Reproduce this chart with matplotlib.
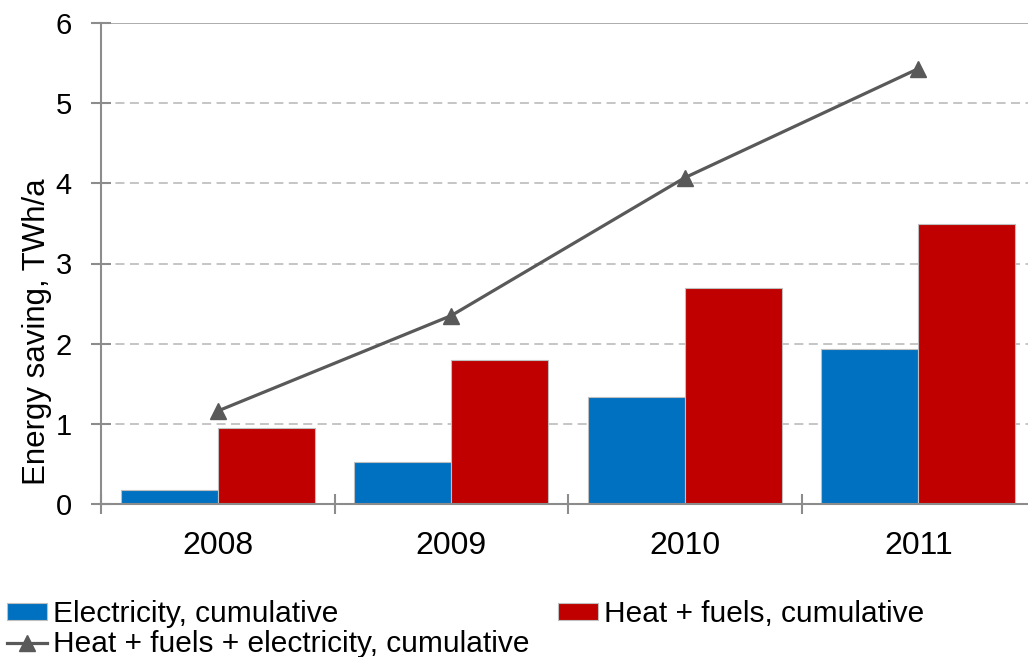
import matplotlib
matplotlib.use("Agg")
import matplotlib.pyplot as plt
from matplotlib.lines import Line2D
from matplotlib.patches import Patch
import numpy as np

plt.rcParams['font.family'] = ['Liberation Sans', 'DejaVu Sans']

years = ["2008", "2009", "2010", "2011"]
electricity = [0.18, 0.53, 1.33, 1.93]
heat_fuels = [0.95, 1.80, 2.70, 3.49]
total = [1.16, 2.35, 4.07, 5.43]

blue = "#0070C0"
red = "#C00000"
line_col = "#595959"
axis_col = "#8C8C8C"
grid_col = "#C0C0C0"

fig = plt.figure(figsize=(10.28, 6.57), dpi=100)
ax = fig.add_axes([101/1028, (657-504)/657, (1035-101)/1028, (504-23)/657])

x = np.arange(len(years))
w = 0.415
ax.bar(x - w/2, electricity, w, color=blue, edgecolor="#BFBFBF", linewidth=0.8, zorder=3)
ax.bar(x + w/2, heat_fuels, w, color=red, edgecolor="#BFBFBF", linewidth=0.8, zorder=3)
ax.plot(x, total, color=line_col, lw=2.3, marker="^", ms=11, zorder=4, clip_on=False)

ax.set_xlim(-0.5, 3.5)
ax.set_ylim(0, 6)
ax.set_yticks([0, 1, 2, 3, 4, 5, 6])
for v in [1, 2, 3, 4, 5]:
    ax.axhline(v, color=grid_col, lw=1.3, dashes=(5, 3), zorder=1)
ax.axhline(6, color="#A6A6A6", lw=1.3, zorder=1)

ax.set_xticks(x)
ax.set_xticklabels(years)
ax.set_xticks(np.arange(-0.5, 4.0, 1.0), minor=True)
ax.tick_params(axis='x', which='major', length=0, pad=19.5, labelsize=23)
ax.tick_params(axis='x', which='minor', direction='inout', length=14, width=1.5, color=axis_col)
ax.tick_params(axis='y', direction='inout', length=14, width=1.5, color=axis_col, pad=14, labelsize=21)

for s in ['top', 'right']:
    ax.spines[s].set_visible(False)
for s in ['left', 'bottom']:
    ax.spines[s].set_color(axis_col)
    ax.spines[s].set_linewidth(1.5)
    ax.spines[s].set_zorder(5)

fig.text(37/1028, 1 - 332/657, "Energy saving, TWh/a", fontsize=22.5,
         rotation=90, ha='center', va='center')

handles = [
    Patch(facecolor=blue, edgecolor="#BFBFBF", linewidth=0.8),
    Line2D([0], [0], color=line_col, lw=2.3, marker="^", ms=11),
    Patch(facecolor=red, edgecolor="#BFBFBF", linewidth=0.8),
]
labels = ["Electricity, cumulative",
          "Heat + fuels + electricity, cumulative",
          "Heat + fuels, cumulative"]
fig.legend(handles, labels, ncol=2, loc='upper left',
           bbox_to_anchor=(7/1028, (657-600)/657), frameon=False,
           fontsize=21.5, handlelength=1.35, handleheight=0.47,
           handletextpad=0.2, columnspacing=0.95, labelspacing=0.08,
           borderpad=0, borderaxespad=0)

fig.savefig("out.png", dpi=100)
